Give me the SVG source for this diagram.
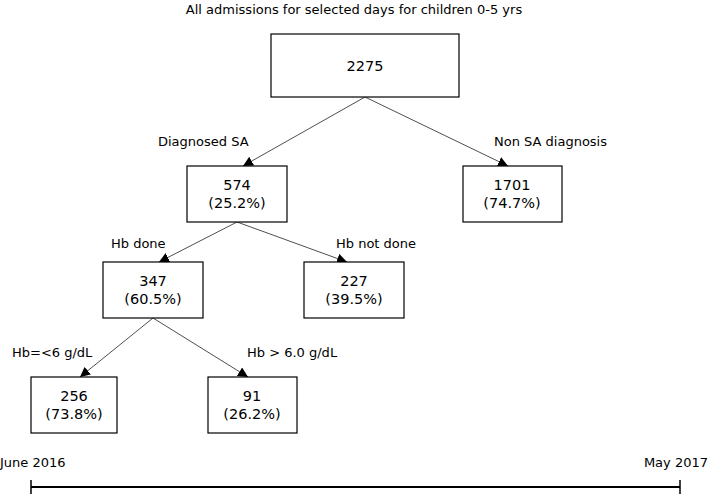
<svg xmlns="http://www.w3.org/2000/svg" width="709" height="496" viewBox="0 0 709 496">
<defs>
<marker id="ah" viewBox="0 0 10 10" refX="10" refY="5" markerWidth="10" markerHeight="10" markerUnits="userSpaceOnUse" orient="auto">
<path d="M0,0 L10,5 L0,10 z" fill="#000"/>
</marker>
</defs>
<style>
.box{fill:#fff;stroke:#000;stroke-width:1.2}
.num{font-family:"DejaVu Sans",sans-serif;font-size:14.5px;text-anchor:middle;fill:#000}
.lbl{font-family:"DejaVu Sans",sans-serif;font-size:13px;fill:#000}
.con{stroke:#222;stroke-width:0.8;fill:none;marker-end:url(#ah)}
</style>
<rect width="709" height="496" fill="#fff"/>
<text class="lbl" x="354" y="14" text-anchor="middle">All admissions for selected days for children 0-5 yrs</text>
<g id="connectors">
<line class="con" x1="365" y1="97" x2="243" y2="166"/>
<line class="con" x1="365" y1="97" x2="508" y2="166"/>
<line class="con" x1="237" y1="222" x2="159" y2="262"/>
<line class="con" x1="237" y1="222" x2="347" y2="262"/>
<line class="con" x1="153" y1="318" x2="80" y2="377"/>
<line class="con" x1="153" y1="318" x2="248" y2="377"/>
</g>
<g id="n2275"><rect class="box" x="271" y="34" width="188" height="63"/><text class="num" x="365" y="71">2275</text></g>
<g id="n574"><rect class="box" x="187" y="166" width="100" height="56"/><text class="num" x="237" y="190">574</text><text class="num" x="237" y="208">(25.2%)</text></g>
<g id="n1701"><rect class="box" x="463" y="166" width="99" height="56"/><text class="num" x="512" y="190">1701</text><text class="num" x="512" y="208">(74.7%)</text></g>
<g id="n347"><rect class="box" x="103" y="262" width="100" height="56"/><text class="num" x="153" y="286">347</text><text class="num" x="153" y="304">(60.5%)</text></g>
<g id="n227"><rect class="box" x="304" y="262" width="100" height="56"/><text class="num" x="354" y="286">227</text><text class="num" x="354" y="304">(39.5%)</text></g>
<g id="n256"><rect class="box" x="31" y="377" width="86" height="56"/><text class="num" x="74" y="401">256</text><text class="num" x="74" y="419">(73.8%)</text></g>
<g id="n91"><rect class="box" x="208" y="377" width="89" height="56"/><text class="num" x="252" y="401">91</text><text class="num" x="252" y="419">(26.2%)</text></g>
<g id="labels">
<text class="lbl" x="158" y="146">Diagnosed SA</text>
<text class="lbl" x="494" y="146">Non SA diagnosis</text>
<text class="lbl" x="111" y="248">Hb done</text>
<text class="lbl" x="336" y="248">Hb not done</text>
<text class="lbl" x="12" y="357">Hb=&lt;6 g/dL</text>
<text class="lbl" x="247" y="357">Hb &gt; 6.0 g/dL</text>
</g>
<g id="timeline">
<text class="lbl" x="0" y="467">June 2016</text>
<text class="lbl" x="708" y="467" text-anchor="end">May 2017</text>
<line x1="31" y1="487" x2="680" y2="487" stroke="#000" stroke-width="2"/>
<line x1="31" y1="480" x2="31" y2="494" stroke="#000" stroke-width="1.5"/>
<line x1="680" y1="480" x2="680" y2="494" stroke="#000" stroke-width="1.5"/>
</g>
</svg>
